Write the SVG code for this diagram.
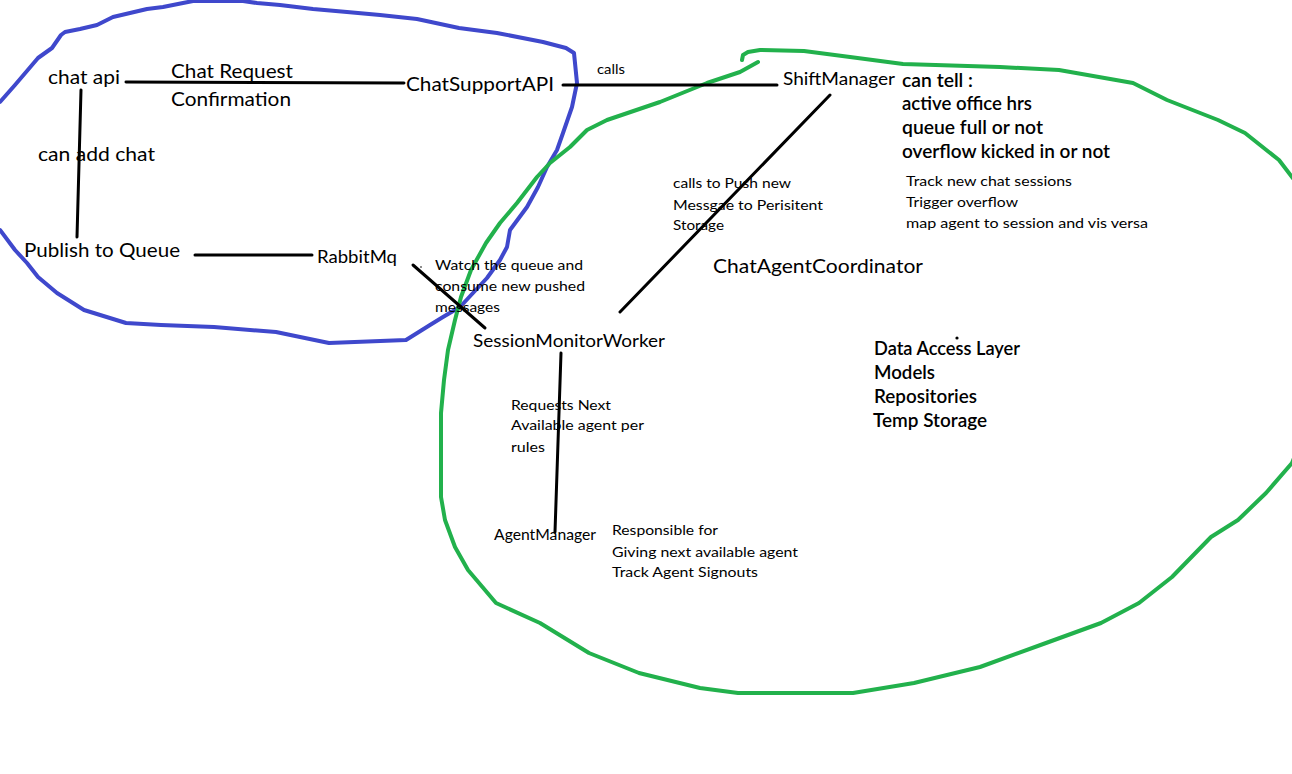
<svg xmlns="http://www.w3.org/2000/svg" width="1292" height="774" viewBox="0 0 1292 774">
<style>
text{font-family:Lato,"Open Sans","Liberation Sans",sans-serif;fill:#000}
.lg{font-size:20px}
.md{font-size:17px}
.bd{font-size:19px;font-weight:600}
.sm{font-size:14px}
.ln{stroke:#000;stroke-width:3;fill:none;stroke-linecap:round}
.blue{stroke:#3f48cc;stroke-width:4;fill:none;stroke-linejoin:round;stroke-linecap:round}
.green{stroke:#22b14c;stroke-width:4;fill:none;stroke-linejoin:round;stroke-linecap:round}
</style>
<rect width="1292" height="774" fill="#fff"/>
<g id="boundaries">
<polyline class="blue" points="0,102 15,85 38,58 52,48 61,35 65,32 80,29 97,25 113,17 130,13 147,9 163,7 183,3 193,1 243,1 257,3 280,5 313,9 347,12 380,15 417,19 459,28 497,33 543,42 566,48 574,53 577,83 572,107 563,133 557,150 547,167 538,187 527,207 510,230 507,247 500,260 487,278 473,293 460,307 443,317 430,325 406,340 329,343 276,332 214,327 161,325 126,323 84,310 57,293 38,277 27,263 15,250 0,230"/>
<polyline class="green" points="758,62 740,72 707,83 660,102 607,120 587,130 570,147 550,163 537,177 517,203 500,223 486,243 471,270 461,297 455,320 448,350 444,380 441,413 441,497 445,520 455,547 468,570 496,603 540,623 589,653 639,673 700,688 738,693 853,693 914,683 980,667 1046,643 1101,623 1139,603 1172,577 1211,537 1238,520 1266,493 1292,463 1310,420 1310,200 1292,177 1279,160 1245,133 1218,120 1167,100 1133,83 1059,70 1000,67 903,64 850,57 804,51 760,50 748,52 743,55 742,60"/>
</g>
<g id="connectors">
<line class="ln" x1="126" y1="82" x2="404" y2="83"/>
<line class="ln" x1="81" y1="90" x2="77" y2="237"/>
<line class="ln" x1="195" y1="255" x2="312" y2="255"/>
<line class="ln" x1="563" y1="85" x2="777" y2="85"/>
<line class="ln" x1="413" y1="265" x2="485" y2="328"/>
<line class="ln" x1="830" y1="95" x2="620" y2="312"/>
<line class="ln" x1="561" y1="353" x2="555" y2="532"/>
<circle cx="957" cy="338" r="1.6" fill="#000"/>
<circle cx="421" cy="267" r="0.8" fill="#000"/>
</g>
<g id="chat-api"><text class="lg" x="48" y="84" textLength="72" lengthAdjust="spacingAndGlyphs">chat api</text></g>
<g id="label-chat-request">
<text class="lg" x="171" y="78" textLength="122" lengthAdjust="spacingAndGlyphs">Chat Request</text>
<text class="lg" x="171" y="106" textLength="120" lengthAdjust="spacingAndGlyphs">Confirmation</text>
</g>
<g id="chat-support-api"><text class="lg" x="406" y="91" textLength="148" lengthAdjust="spacingAndGlyphs">ChatSupportAPI</text></g>
<g id="label-can-add-chat"><text class="lg" x="38" y="161" textLength="117" lengthAdjust="spacingAndGlyphs">can add chat</text></g>
<g id="publish-to-queue"><text class="lg" x="24" y="257" textLength="156" lengthAdjust="spacingAndGlyphs">Publish to Queue</text></g>
<g id="rabbitmq"><text class="md" x="317" y="263" textLength="80" lengthAdjust="spacingAndGlyphs">RabbitMq</text></g>
<g id="label-calls"><text class="sm" x="597" y="74" textLength="28" lengthAdjust="spacingAndGlyphs">calls</text></g>
<g id="shift-manager">
<text class="md" x="783" y="85" textLength="112" lengthAdjust="spacingAndGlyphs">ShiftManager</text>
<text class="bd" x="902" y="87" textLength="71" lengthAdjust="spacingAndGlyphs">can tell :</text>
<text class="bd" x="902" y="110" textLength="130" lengthAdjust="spacingAndGlyphs">active office hrs</text>
<text class="bd" x="902" y="134" textLength="141" lengthAdjust="spacingAndGlyphs">queue full or not</text>
<text class="bd" x="902" y="158" textLength="208" lengthAdjust="spacingAndGlyphs">overflow kicked in or not</text>
</g>
<g id="chat-agent-coordinator-notes">
<text class="sm" x="906" y="186" textLength="166" lengthAdjust="spacingAndGlyphs">Track new chat sessions</text>
<text class="sm" x="906" y="207" textLength="112" lengthAdjust="spacingAndGlyphs">Trigger overflow</text>
<text class="sm" x="906" y="228" textLength="242" lengthAdjust="spacingAndGlyphs">map agent to session and vis versa</text>
</g>
<g id="label-push-message">
<text class="sm" x="673" y="188" textLength="118" lengthAdjust="spacingAndGlyphs">calls to Push new</text>
<text class="sm" x="673" y="210" textLength="150" lengthAdjust="spacingAndGlyphs">Messgae to Perisitent</text>
<text class="sm" x="673" y="230" textLength="51" lengthAdjust="spacingAndGlyphs">Storage</text>
</g>
<g id="chat-agent-coordinator"><text class="lg" x="713" y="273" textLength="210" lengthAdjust="spacingAndGlyphs">ChatAgentCoordinator</text></g>
<g id="label-watch-queue">
<text class="sm" x="435" y="270" textLength="148" lengthAdjust="spacingAndGlyphs">Watch the queue and</text>
<text class="sm" x="435" y="291" textLength="150" lengthAdjust="spacingAndGlyphs">consume new pushed</text>
<text class="sm" x="435" y="312" textLength="65" lengthAdjust="spacingAndGlyphs">messages</text>
</g>
<g id="session-monitor-worker"><text class="md" x="473" y="347" textLength="192" lengthAdjust="spacingAndGlyphs">SessionMonitorWorker</text></g>
<g id="data-access-layer">
<text class="bd" x="874" y="355" textLength="146" lengthAdjust="spacingAndGlyphs">Data Access Layer</text>
<text class="bd" x="874" y="379" textLength="61" lengthAdjust="spacingAndGlyphs">Models</text>
<text class="bd" x="874" y="403" textLength="103" lengthAdjust="spacingAndGlyphs">Repositories</text>
<text class="bd" x="873" y="427" textLength="114" lengthAdjust="spacingAndGlyphs">Temp Storage</text>
</g>
<g id="label-requests-next">
<text class="sm" x="511" y="410" textLength="100" lengthAdjust="spacingAndGlyphs">Requests Next</text>
<text class="sm" x="511" y="430" textLength="133" lengthAdjust="spacingAndGlyphs">Available agent per</text>
<text class="sm" x="511" y="452" textLength="34" lengthAdjust="spacingAndGlyphs">rules</text>
</g>
<g id="agent-manager">
<text class="sm" x="494" y="540" textLength="102" lengthAdjust="spacingAndGlyphs" style="font-size:15px">AgentManager</text>
<text class="sm" x="612" y="535" textLength="106" lengthAdjust="spacingAndGlyphs">Responsible for</text>
<text class="sm" x="612" y="557" textLength="186" lengthAdjust="spacingAndGlyphs">Giving next available agent</text>
<text class="sm" x="612" y="577" textLength="146" lengthAdjust="spacingAndGlyphs">Track Agent Signouts</text>
</g>
</svg>
